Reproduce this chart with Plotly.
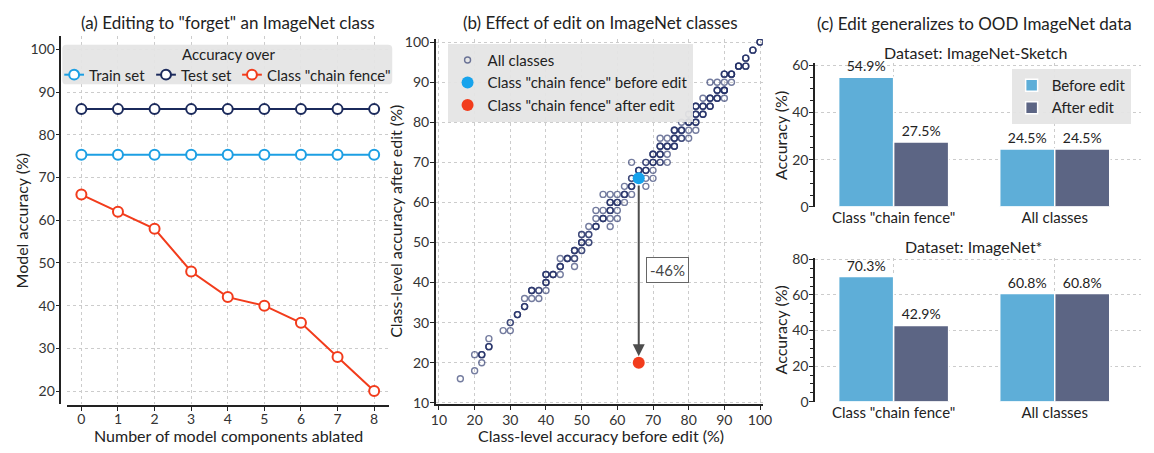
import plotly.graph_objects as go

W, H = 1154, 453
FONT = "Lato"
INK = "#222222"
TICK = "#333333"
GRID = "#cccccc"

# ---- (a) accuracy vs number of ablated components ----
components = [0, 1, 2, 3, 4, 5, 6, 7, 8]
train_acc = [75.3, 75.3, 75.3, 75.3, 75.3, 75.3, 75.3, 75.3, 75.3]
test_acc = [86.0, 86.0, 86.0, 86.0, 86.0, 86.0, 86.0, 86.0, 86.0]
chain_fence_acc = [66, 62, 58, 48, 42, 40, 36, 28, 20]
series_names = ["Train set", "Test set", 'Class "chain fence"']

# ---- (b) per-class accuracy before / after the edit (repeated pairs = overlapping classes) ----
before_acc = [
    16, 20, 20, 22, 22, 22, 22, 24, 24, 24, 24, 28, 30, 30, 30, 32, 32, 32,
    34, 34, 34, 34, 36, 36, 36, 36, 38, 38, 38, 40, 40, 40, 40, 40, 40, 40,
    42, 42, 42, 44, 44, 44, 44, 44, 46, 46, 46, 48, 48, 48, 48, 48, 48,
    50, 50, 50, 50, 50, 50, 50, 52, 52, 52, 52, 52,
    54, 54, 54, 54, 54, 56, 56, 56, 56, 56,
    58, 58, 58, 58, 58, 58, 58, 58, 58, 60, 60, 60, 60, 60, 60,
    62, 62, 62, 62, 62, 64, 64, 64, 64, 64, 64, 64, 66, 66, 66, 66,
    68, 68, 68, 68, 68, 68, 68, 70, 70, 70, 70, 70, 70, 70, 70,
    72, 72, 72, 72, 72, 72, 72, 72, 72, 74, 74, 74, 74, 74, 74,
    76, 76, 76, 76, 76, 76, 76, 76, 76, 78, 78, 78, 78, 78, 78,
    80, 80, 80, 80, 80, 80, 82, 82, 82, 82, 82, 82, 82, 82, 82, 82,
    84, 84, 84, 84, 84, 84, 84, 86, 86, 86, 86, 86, 86, 86,
    88, 88, 88, 88, 88, 88, 88, 90, 90, 90, 90, 90, 90, 90, 90, 90,
    92, 92, 92, 92, 92, 94, 94, 94, 94, 96, 96, 96, 96, 96, 96,
    98, 98, 98, 100, 100, 100,
]
after_acc = [
    16, 18, 22, 20, 22, 22, 22, 24, 24, 24, 26, 28, 28, 30, 30, 32, 32, 32,
    34, 34, 34, 36, 36, 38, 38, 38, 36, 38, 38, 38, 40, 40, 40, 42, 42, 42,
    42, 42, 42, 42, 44, 44, 44, 46, 46, 46, 46, 44, 46, 46, 48, 48, 48,
    48, 48, 50, 50, 50, 52, 52, 50, 50, 52, 52, 54,
    54, 54, 54, 56, 58, 56, 56, 56, 58, 62,
    54, 56, 58, 58, 58, 60, 60, 60, 62, 56, 58, 60, 60, 60, 62,
    60, 62, 62, 62, 64, 62, 64, 64, 64, 66, 66, 70, 66, 68, 68, 68,
    64, 66, 68, 68, 68, 70, 70, 66, 68, 70, 70, 70, 72, 72, 72,
    70, 70, 72, 72, 72, 74, 74, 74, 76, 70, 72, 74, 74, 74, 76,
    74, 74, 74, 76, 76, 76, 78, 78, 78, 76, 76, 78, 78, 78, 80,
    76, 78, 80, 80, 80, 82, 78, 80, 80, 80, 82, 82, 82, 84, 84, 84,
    82, 82, 82, 84, 84, 84, 86, 84, 84, 84, 86, 86, 86, 90,
    86, 86, 86, 88, 88, 88, 90, 86, 88, 88, 88, 90, 92, 92, 92, 88,
    90, 92, 92, 92, 92, 94, 94, 94, 94, 94, 94, 94, 96, 96, 96,
    98, 98, 98, 100, 100, 100,
]
target_before = [66]
target_after = [20]
drop_label = "-46%"

# ---- (c) OOD datasets ----
groups = ['Class "chain fence"', "All classes"]
sketch_before = [54.9, 24.5]
sketch_after = [27.5, 24.5]
star_before = [70.3, 60.8]
star_after = [42.9, 60.8]

C_TRAIN = "#1c9fe3"
C_TEST = "#1b2a5c"
C_CHAIN = "#f23c1c"
C_BEFORE = "#5eaed8"
C_AFTER = "#5c6584"
C_TARGET = "#17a3ec"
LEGEND_BG = "rgba(228,228,228,0.93)"


def fx(px):
    """pixel x -> paper fraction"""
    return px / W


def fy(py):
    """pixel y (from top) -> paper fraction"""
    return 1 - py / H


fig = go.Figure()

# (a) lines
line_colors = [C_TRAIN, C_TEST, C_CHAIN]
for name, vals, col in zip(series_names, [train_acc, test_acc, chain_fence_acc], line_colors):
    fig.add_trace(go.Scatter(
        x=components, y=vals, name=name, mode="lines+markers",
        line=dict(color=col, width=2),
        marker=dict(symbol="circle", size=10, color="white",
                    line=dict(color=col, width=2)),
        xaxis="x", yaxis="y", showlegend=False, cliponaxis=False,
    ))

# (b) scatter
fig.add_trace(go.Scatter(
    x=before_acc, y=after_acc, name="All classes", mode="markers",
    marker=dict(symbol="circle-open", size=6, color="rgba(30,44,100,0.62)",
                line=dict(width=1.4)),
    xaxis="x2", yaxis="y2", legend="legend2",
))
fig.add_trace(go.Scatter(
    x=target_before, y=target_before, name='Class "chain fence" before edit',
    mode="markers", marker=dict(size=12, color=C_TARGET),
    xaxis="x2", yaxis="y2", legend="legend2", cliponaxis=False,
))
fig.add_trace(go.Scatter(
    x=target_before, y=target_after, name='Class "chain fence" after edit',
    mode="markers", marker=dict(size=12, color=C_CHAIN),
    xaxis="x2", yaxis="y2", legend="legend2", cliponaxis=False,
))

# (c) bars
for (xa, ya, b_vals, a_vals, show) in [("x3", "y3", sketch_before, sketch_after, True),
                                       ("x4", "y4", star_before, star_after, False)]:
    for name, vals, col in [("Before edit", b_vals, C_BEFORE), ("After edit", a_vals, C_AFTER)]:
        fig.add_trace(go.Bar(
            x=groups, y=vals, name=name,
            marker=dict(color=col, line=dict(color="white", width=1.5)),
            text=[f"{v}%" for v in vals], textposition="outside", constraintext="none",
            textfont=dict(size=14, color=INK, family=FONT), cliponaxis=False,
            xaxis=xa, yaxis=ya, legend="legend3", showlegend=show,
        ))

axis_common = dict(
    showgrid=True, gridcolor=GRID, griddash="dot", gridwidth=1, zeroline=False,
    showline=True, linecolor="#222222", linewidth=1.5,
    ticks="outside", ticklen=4, tickwidth=1.3, tickcolor="#222222",
    tickfont=dict(size=14, color=TICK, family=FONT), ticklabelstandoff=-2,
)
minor_ticks = dict(dtick=5, ticklen=3, tickcolor="#222222", ticks="outside", showgrid=False)
cat_axis = dict(showgrid=True, gridcolor=GRID, griddash="dot", showline=False, ticks="",
                domain=[fx(820), fx(1150)], range=[-0.488, 1.536], zeroline=False,
                tickfont=dict(size=15, color=INK, family=FONT))

fig.update_layout(
    width=W, height=H, margin=dict(l=0, r=0, t=0, b=0),
    paper_bgcolor="white", plot_bgcolor="white",
    font=dict(family=FONT, color=INK),
    barmode="group", bargap=0.317, bargroupgap=0,
    xaxis=dict(axis_common, domain=[fx(62.5), fx(388.5)], range=[-0.4, 8.4], dtick=1,
               anchor="free", position=fy(413), ticklabelstandoff=-4),
    yaxis=dict(axis_common, domain=[fy(410.5), fy(30.5)], range=[17, 103], dtick=10,
               anchor="free", position=fx(56)),
    xaxis2=dict(axis_common, domain=[fx(436), fx(767)], range=[9.09, 100.75], dtick=10,
                tick0=10, anchor="y2"),
    yaxis2=dict(axis_common, domain=[fy(411), fy(33)], range=[9.59, 100.8], dtick=10,
                tick0=10, anchor="x2"),
    xaxis3=dict(cat_axis, anchor="y3"),
    yaxis3=dict(axis_common, domain=[fy(206.7), fy(58.3)], range=[0, 60.8], dtick=20,
                anchor="x3", minor=minor_ticks),
    xaxis4=dict(cat_axis, anchor="y4"),
    yaxis4=dict(axis_common, domain=[fy(408.3), fy(259.3)], range=[0, 80.9], dtick=20,
                anchor="x4", minor=minor_ticks),
    legend2=dict(
        x=fx(448), y=fy(38), xanchor="left", yanchor="top",
        bgcolor=LEGEND_BG, font=dict(size=15, color=INK, family=FONT), itemwidth=30,
    ),
    legend3=dict(
        x=fx(1019), y=fy(64), xanchor="left", yanchor="top",
        bgcolor=LEGEND_BG, font=dict(size=15, color=INK, family=FONT), itemwidth=30,
    ),
)


def text_at(px, py, s, size, angle=0, anchor="center", color=INK):
    fig.add_annotation(x=fx(px), y=fy(py), xref="paper", yref="paper", text=s,
                       showarrow=False, textangle=angle, xanchor=anchor, yanchor="middle",
                       font=dict(size=size, color=color, family=FONT))


def rounded_box(x0, y0, x1, y1, r, fill):
    path = (f"M {fx(x0 + r)},{fy(y0)} L {fx(x1 - r)},{fy(y0)} "
            f"Q {fx(x1)},{fy(y0)} {fx(x1)},{fy(y0 + r)} L {fx(x1)},{fy(y1 - r)} "
            f"Q {fx(x1)},{fy(y1)} {fx(x1 - r)},{fy(y1)} L {fx(x0 + r)},{fy(y1)} "
            f"Q {fx(x0)},{fy(y1)} {fx(x0)},{fy(y1 - r)} L {fx(x0)},{fy(y0 + r)} "
            f"Q {fx(x0)},{fy(y0)} {fx(x0 + r)},{fy(y0)} Z")
    fig.add_shape(type="path", path=path, xref="paper", yref="paper",
                  fillcolor=fill, line=dict(width=0), layer="above")


# (a) legend: box, title and one line+circle glyph per series
rounded_box(58, 39, 392, 80, 4, LEGEND_BG)
text_at(226, 48.5, "Accuracy over", 15)
for name, col, x0 in zip(series_names, line_colors, [60, 153, 240]):
    fig.add_shape(type="line", xref="paper", yref="paper", layer="above",
                  x0=fx(x0), x1=fx(x0 + 20), y0=fy(70), y1=fy(70),
                  line=dict(color=col, width=2))
    fig.add_shape(type="circle", xref="paper", yref="paper", layer="above",
                  x0=fx(x0 + 5), x1=fx(x0 + 15), y0=fy(75), y1=fy(65),
                  fillcolor="white", line=dict(color=col, width=2))
    text_at(x0 + 23, 70, name, 15, anchor="left")

# panel titles and axis titles
text_at(226, 16, '(a) Editing to "forget" an ImageNet class', 17)
text_at(603, 16, "(b) Effect of edit on ImageNet classes", 17)
text_at(981, 17, "(c) Edit generalizes to OOD ImageNet data", 17)
text_at(982, 47, "Dataset: ImageNet-Sketch", 16)
text_at(980, 248, "Dataset: ImageNet*", 16)
text_at(226, 443, "Number of model components ablated", 16)
text_at(17, 221, "Model accuracy (%)", 16, -90)
text_at(603, 443, "Class-level accuracy before edit (%)", 16)
text_at(395, 222, "Class-level accuracy after edit (%)", 16, -90)
text_at(785, 133, "Accuracy (%)", 16, -90)
text_at(785, 334, "Accuracy (%)", 16, -90)

# arrow from before-edit point to after-edit point
fig.add_annotation(
    x=target_before[0], y=target_after[0] + 1.6, ax=target_before[0], ay=target_before[0] - 1.4,
    xref="x2", yref="y2", axref="x2", ayref="y2", text="", showarrow=True,
    arrowhead=2, arrowsize=1.2, arrowwidth=2, arrowcolor="#4d4d4d", standoff=0,
)
fig.add_annotation(
    x=74.2, y=43.1, xref="x2", yref="y2", text=drop_label, showarrow=False,
    font=dict(size=15, color="#444444", family=FONT),
    bgcolor="white", bordercolor="#666666", borderwidth=1, borderpad=3,
)

fig.write_html("out.html")
